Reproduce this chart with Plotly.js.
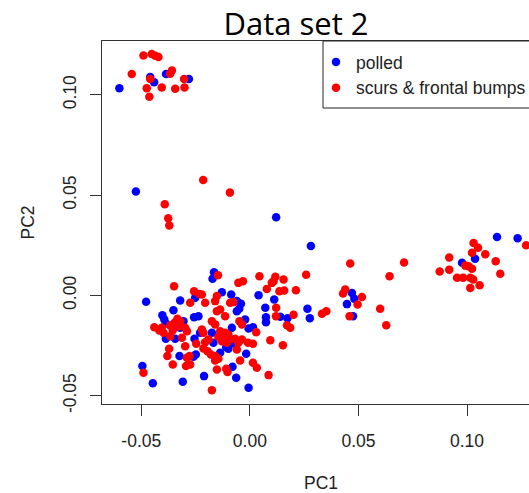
<!DOCTYPE html>
<html>
<head>
<meta charset="utf-8">
<script src="https://cdn.plot.ly/plotly-3.0.1.min.js"></script>
<style>
  html, body { margin: 0; padding: 0; overflow: hidden; background: #fff; }
  #chart { width: 560px; height: 493px; }
</style>
</head>
<body>
<div id="chart"></div>
<script>
// ---- data (PC1, PC2) ----
const polledPC1 = [
  -0.0601, -0.0459, -0.0441, -0.0386, -0.0281,
  -0.0525, 0.0121, 0.0281,
  0.1138, 0.1233, 0.0977, 0.1037,
  0.0470, 0.0481, 0.0447, 0.0475, 0.0265, 0.0276, 0.0140, 0.0173,
  -0.0165, -0.0172, 0.0040, -0.0129, -0.0086, -0.0252, -0.0321, -0.0478,
  -0.0060, -0.0041, -0.0060, -0.0049, 0.0112, 0.0071, -0.0352, -0.0403,
  -0.0394, -0.0387, -0.0306, -0.0257, -0.0321, -0.0387, -0.0344, 0.0074,
  0.0074, -0.0022, 0.0014, -0.0006, -0.0229, -0.0083, -0.0175, -0.0255,
  -0.0076, -0.0168, -0.0137, -0.0109, -0.0099, -0.0260, -0.0249, -0.0324,
  -0.0017, -0.0080, -0.0495, -0.0211, -0.0063, -0.0447, -0.0309, -0.0006,
  -0.0237
];
const polledPC2 = [
  0.1033, 0.1090, 0.1063, 0.1105, 0.1080,
  0.0518, 0.0390, 0.0247,
  0.0292, 0.0286, 0.0163, 0.0183,
  0.0013, -0.0016, -0.0043, -0.0103, -0.0066, -0.0113, -0.0106, -0.0113,
  0.0116, 0.0083, 0.0001, 0.0016, 0.0005, -0.0011, -0.0025, -0.0031,
  -0.0028, -0.0041, -0.0078, -0.0066, -0.0020, -0.0061, -0.0073, -0.0098,
  -0.0120, -0.0140, -0.0128, -0.0108, -0.0161, -0.0216, -0.0216, -0.0108,
  -0.0133, -0.0120, -0.0158, -0.0164, -0.0186, -0.0161, -0.0186, -0.0216,
  -0.0239, -0.0236, -0.0286, -0.0258, -0.0266, -0.0305, -0.0294, -0.0302,
  -0.0290, -0.0355, -0.0352, -0.0402, -0.0410, -0.0438, -0.0430, -0.0460,
  -0.0103
];
const scursPC1 = [
  -0.0490, -0.0452, -0.0436, -0.0421, -0.0544, -0.0459, -0.0359, -0.0367,
  -0.0303, -0.0475, -0.0406, -0.0344, -0.0301, -0.0463,
  -0.0215, -0.0092, -0.0392, -0.0376, -0.0371,
  0.1272, 0.1030, 0.1051, 0.1023, 0.1084, 0.0918, 0.0992, 0.1007, 0.1023,
  0.0874, 0.0918, 0.1132, 0.1153, 0.0954, 0.0982, 0.1015, 0.1028, 0.1058,
  0.1015,
  0.0710, 0.0643, 0.0462, 0.0259, 0.0155, 0.0158, 0.0212, 0.0439, 0.0429,
  0.0516, 0.0496, 0.0459, 0.0600, 0.0628, 0.0332, 0.0352, 0.0201, 0.0171,
  0.0186, 0.0152,
  -0.0147, 0.0044, 0.0117, 0.0109, 0.0101, -0.0053, -0.0032, -0.0349,
  0.0078, 0.0136, -0.0257, -0.0234, -0.0221, -0.0152, -0.0160, -0.0275,
  -0.0206, -0.0091, -0.0076, 0.0121, -0.0152, -0.0137, -0.0114, -0.0334,
  -0.0321, -0.0347, -0.0329, -0.0367, -0.0355, -0.0298, -0.0290, -0.0440,
  -0.0417, -0.0398, -0.0406, -0.0367, -0.0313, 0.0120, -0.0048, -0.0037,
  -0.0175, -0.0160, 0.0029, -0.0221, -0.0214, -0.0137, -0.0114, -0.0099,
  -0.0122, -0.0145, -0.0109, -0.0091, -0.0129, -0.0106, -0.0191, -0.0206,
  -0.0068, -0.0053, -0.0037, -0.0009, 0.0014, 0.0094, -0.0247, -0.0298,
  -0.0372, -0.0380, -0.0214, -0.0195, -0.0180, -0.0160, -0.0060, -0.0290,
  -0.0278, -0.0355, -0.0294, -0.0275, -0.0045, -0.0160, -0.0145, 0.0014,
  0.0032, -0.0103, -0.0109, -0.0152, -0.0490, 0.0086, -0.0175
];
const scursPC2 = [
  0.1197, 0.1204, 0.1195, 0.1189, 0.1104, 0.1079, 0.1122, 0.1106,
  0.1079, 0.1034, 0.1037, 0.1031, 0.1037, 0.0991,
  0.0576, 0.0513, 0.0455, 0.0385, 0.0349,
  0.0250, 0.0262, 0.0238, 0.0213, 0.0206, 0.0189, 0.0149, 0.0146, 0.0133,
  0.0120, 0.0129, 0.0171, 0.0108, 0.0088, 0.0088, 0.0088, 0.0080, 0.0051,
  0.0038,
  0.0164, 0.0096, 0.0159, 0.0103, 0.0080, 0.0025, 0.0026, 0.0030, 0.0010,
  -0.0008, -0.0045, -0.0103, -0.0066, -0.0148, -0.0091, -0.0078, -0.0096, -0.0148,
  -0.0161, -0.0248,
  0.0101, 0.0096, 0.0093, 0.0071, 0.0063, 0.0063, 0.0071, 0.0046,
  0.0033, 0.0021, 0.0021, 0.0008, 0.0005, -0.0003, -0.0028, -0.0036,
  -0.0036, -0.0036, -0.0033, -0.0061, -0.0078, -0.0070, -0.0103, -0.0116,
  -0.0128, -0.0136, -0.0153, -0.0149, -0.0173, -0.0161, -0.0178, -0.0158,
  -0.0174, -0.0186, -0.0161, -0.0203, -0.0211, -0.0103, -0.0128, -0.0144,
  -0.0128, -0.0144, -0.0183, -0.0169, -0.0186, -0.0178, -0.0186, -0.0194,
  -0.0203, -0.0206, -0.0211, -0.0219, -0.0228, -0.0236, -0.0219, -0.0233,
  -0.0216, -0.0236, -0.0219, -0.0236, -0.0241, -0.0223, -0.0241, -0.0253,
  -0.0266, -0.0302, -0.0264, -0.0278, -0.0294, -0.0302, -0.0269, -0.0310,
  -0.0302, -0.0344, -0.0352, -0.0344, -0.0324, -0.0324, -0.0315, -0.0335,
  -0.0360, -0.0382, -0.0365, -0.0369, -0.0385, -0.0397, -0.0472
];
const seriesNames = ["polled", "scurs &amp; frontal bumps"];
const tickValues = [-0.05, 0, 0.05, 0.10];
const tickLabels = ["-0.05", "0.00", "0.05", "0.10"];

const FONT = "Liberation Sans, Arial, sans-serif";

const traces = [
  { x: polledPC1, y: polledPC2, name: seriesNames[0], type: "scatter", mode: "markers",
    marker: { color: "#0000FF", size: 8.5, line: { width: 0 } } },
  { x: scursPC1, y: scursPC2, name: seriesNames[1], type: "scatter", mode: "markers",
    marker: { color: "#FF0000", size: 8.5, line: { width: 0 } } }
];

const axisCommon = {
  showgrid: false, zeroline: false, showline: true, mirror: true,
  linecolor: "#333", linewidth: 1,
  ticks: "outside", ticklen: 11, tickwidth: 1, tickcolor: "#333",
  tickmode: "array", tickvals: tickValues, ticktext: tickLabels,
  tickfont: { family: FONT, size: 17.5, color: "#222" }
};

// plot area in pixels: x 102..540, y 41..404
const layout = {
  width: 560, height: 493,
  margin: { l: 102, r: 20, t: 41, b: 89, pad: 0 },
  paper_bgcolor: "#fff", plot_bgcolor: "#fff",
  title: { text: "Data set 2", font: { family: "Open Sans, sans-serif", size: 31, color: "#000" },
           xref: "container", x: 296 / 560, xanchor: "center",
           yref: "container", y: 1 - 24.5 / 493, yanchor: "middle" },
  xaxis: Object.assign({}, axisCommon, {
    range: [-0.0681, 0.1336], ticklabelstandoff: 10,
    title: { text: "PC1", font: { family: FONT, size: 17.5, color: "#222" }, standoff: 29 }
  }),
  yaxis: Object.assign({}, axisCommon, {
    range: [-0.0541, 0.1269], tickangle: -90, ticklabelstandoff: 7,
    title: { text: "PC2", font: { family: FONT, size: 17.5, color: "#222" }, standoff: 20 }
  }),
  shapes: [
    { type: "rect", xref: "paper", yref: "paper",
      x0: (323 - 102) / 438, x1: 1.2, y0: (404 - 108) / 363, y1: 1,
      line: { color: "#222", width: 1 }, fillcolor: "#fff", layer: "above" }
  ],
  showlegend: true,
  legend: { x: (316 - 102) / 438, xanchor: "left", y: (404 - 44) / 363, yanchor: "top",
            borderwidth: 0, bgcolor: "rgba(0,0,0,0)",
            font: { family: FONT, size: 17.5, color: "#222" },
            tracegroupgap: 0 }
};

Plotly.newPlot("chart", traces, layout, { displayModeBar: false, staticPlot: true });
</script>
</body>
</html>
